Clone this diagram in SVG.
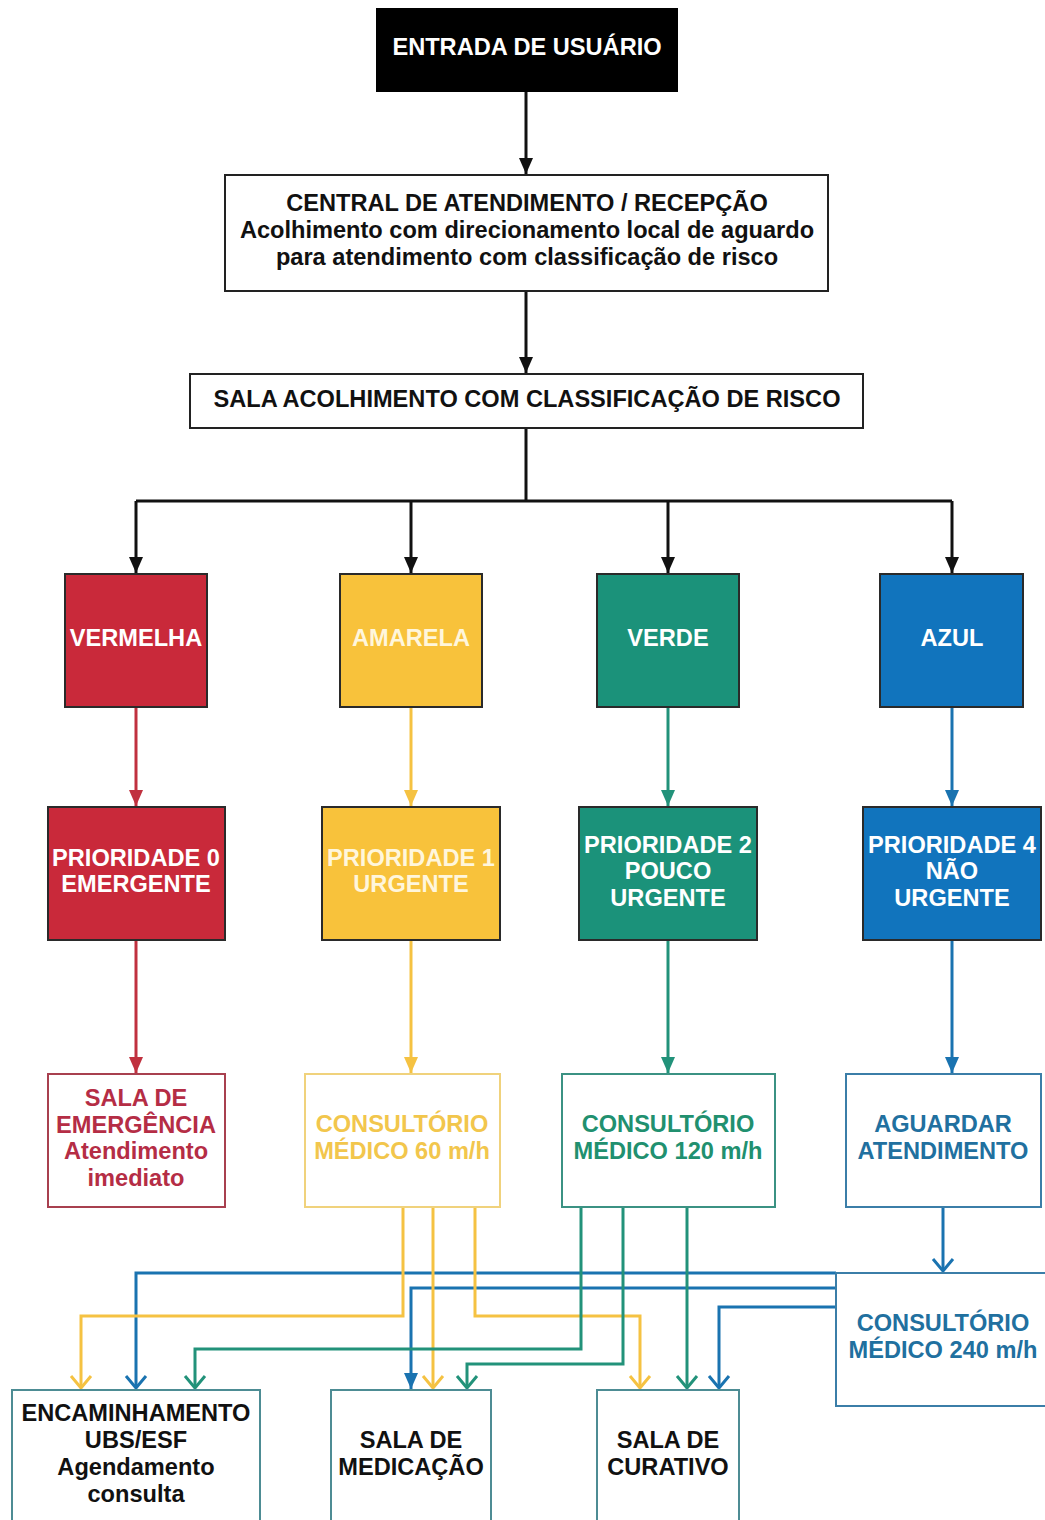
<svg xmlns="http://www.w3.org/2000/svg" width="1045" height="1520" viewBox="0 0 1045 1520">
  <style>
    text { font-family: "Liberation Sans", Arial, sans-serif; font-weight: bold; text-anchor: middle; font-size: 23.6px; }
    .plain { fill: #fff; stroke: #222; stroke-width: 2; }
    .solid { stroke: #2a2a2a; stroke-width: 2; }
    .w { fill: #ffffff; }
    .k { fill: #111111; }
    .ln { fill: none; stroke-width: 3; }
    .lk { stroke: #111111; }
    .lr { stroke: #c0313f; }
    .ly { stroke: #f5c242; }
    .lg { stroke: #22927a; }
    .lb { stroke: #1a73b0; }
    .out { fill: #ffffff; stroke-width: 2; }
    .dest { fill: #ffffff; stroke: #4d8c94; stroke-width: 2; }
  </style>
  <defs>
    <marker id="tri-k" viewBox="0 0 16 14" refX="16" refY="7" markerWidth="16" markerHeight="14" markerUnits="userSpaceOnUse" orient="auto"><path d="M0,0 L16,7 L0,14 z" fill="#111111"/></marker>
    <marker id="tri-r" viewBox="0 0 16 14" refX="16" refY="7" markerWidth="16" markerHeight="14" markerUnits="userSpaceOnUse" orient="auto"><path d="M0,0 L16,7 L0,14 z" fill="#c0313f"/></marker>
    <marker id="tri-y" viewBox="0 0 16 14" refX="16" refY="7" markerWidth="16" markerHeight="14" markerUnits="userSpaceOnUse" orient="auto"><path d="M0,0 L16,7 L0,14 z" fill="#f5c242"/></marker>
    <marker id="tri-g" viewBox="0 0 16 14" refX="16" refY="7" markerWidth="16" markerHeight="14" markerUnits="userSpaceOnUse" orient="auto"><path d="M0,0 L16,7 L0,14 z" fill="#22927a"/></marker>
    <marker id="tri-b" viewBox="0 0 16 14" refX="16" refY="7" markerWidth="16" markerHeight="14" markerUnits="userSpaceOnUse" orient="auto"><path d="M0,0 L16,7 L0,14 z" fill="#1a73b0"/></marker>
    <marker id="chev-y" viewBox="-2 -12 16 24" refX="12" refY="0" markerWidth="16" markerHeight="24" markerUnits="userSpaceOnUse" orient="auto"><path d="M0,-10 L12,0 L0,10" fill="none" stroke="#f5c242" stroke-width="3"/></marker>
    <marker id="chev-g" viewBox="-2 -12 16 24" refX="12" refY="0" markerWidth="16" markerHeight="24" markerUnits="userSpaceOnUse" orient="auto"><path d="M0,-10 L12,0 L0,10" fill="none" stroke="#22927a" stroke-width="3"/></marker>
    <marker id="chev-b" viewBox="-2 -12 16 24" refX="12" refY="0" markerWidth="16" markerHeight="24" markerUnits="userSpaceOnUse" orient="auto"><path d="M0,-10 L12,0 L0,10" fill="none" stroke="#1a73b0" stroke-width="3"/></marker>
  </defs>

  <rect width="1045" height="1520" fill="#ffffff"/>

  <!-- connectors -->
  <g id="connectors">
    <path class="ln lk" d="M526,92 V174" marker-end="url(#tri-k)"/>
    <path class="ln lk" d="M526,291 V373" marker-end="url(#tri-k)"/>
    <path class="ln lk" d="M526,428 V501"/>
    <path class="ln lk" d="M136,501 H952"/>
    <path class="ln lk" d="M136,501 V573" marker-end="url(#tri-k)"/>
    <path class="ln lk" d="M411,501 V573" marker-end="url(#tri-k)"/>
    <path class="ln lk" d="M668,501 V573" marker-end="url(#tri-k)"/>
    <path class="ln lk" d="M952,501 V573" marker-end="url(#tri-k)"/>

    <path class="ln lr" d="M136,707 V806" marker-end="url(#tri-r)"/>
    <path class="ln lr" d="M136,940 V1073" marker-end="url(#tri-r)"/>
    <path class="ln ly" d="M411,707 V806" marker-end="url(#tri-y)"/>
    <path class="ln ly" d="M411,940 V1073" marker-end="url(#tri-y)"/>
    <path class="ln lg" d="M668,707 V806" marker-end="url(#tri-g)"/>
    <path class="ln lg" d="M668,940 V1073" marker-end="url(#tri-g)"/>
    <path class="ln lb" d="M952,707 V806" marker-end="url(#tri-b)"/>
    <path class="ln lb" d="M952,940 V1073" marker-end="url(#tri-b)"/>

    <path class="ln lb" d="M943,1207 V1271" marker-end="url(#chev-b)"/>

    <path class="ln lb" d="M836,1273 H136 V1388" marker-end="url(#chev-b)"/>
    <path class="ln lb" d="M836,1288 H411 V1389" marker-end="url(#tri-b)"/>
    <path class="ln lb" d="M836,1307 H719 V1388" marker-end="url(#chev-b)"/>

    <path class="ln ly" d="M403,1207 V1316 H81 V1388" marker-end="url(#chev-y)"/>
    <path class="ln ly" d="M433,1207 V1388" marker-end="url(#chev-y)"/>
    <path class="ln ly" d="M475,1207 V1316 H640 V1388" marker-end="url(#chev-y)"/>

    <path class="ln lg" d="M581,1207 V1349 H195 V1388" marker-end="url(#chev-g)"/>
    <path class="ln lg" d="M623,1207 V1364 H467 V1388" marker-end="url(#chev-g)"/>
    <path class="ln lg" d="M687,1207 V1388" marker-end="url(#chev-g)"/>
  </g>

  <!-- entry and reception -->
  <g id="entrada">
    <rect x="376" y="8" width="302" height="84" fill="#000000"/>
    <text class="w" x="527" y="55">ENTRADA DE USUÁRIO</text>
  </g>
  <g id="central">
    <rect class="plain" x="225" y="175" width="603" height="116"/>
    <text class="k" x="527" y="211">CENTRAL DE ATENDIMENTO / RECEPÇÃO</text>
    <text class="k" x="527" y="238">Acolhimento com direcionamento local de aguardo</text>
    <text class="k" x="527" y="265">para atendimento com classificação de risco</text>
  </g>
  <g id="sala-acolhimento">
    <rect class="plain" x="190" y="374" width="673" height="54"/>
    <text class="k" x="527" y="407">SALA ACOLHIMENTO COM CLASSIFICAÇÃO DE RISCO</text>
  </g>

  <!-- risk colours -->
  <g id="vermelha">
    <rect class="solid" x="65" y="574" width="142" height="133" fill="#c9293a"/>
    <text class="w" x="136" y="646">VERMELHA</text>
  </g>
  <g id="amarela">
    <rect class="solid" x="340" y="574" width="142" height="133" fill="#f8c23b"/>
    <text x="411" y="646" fill="#fff6dc">AMARELA</text>
  </g>
  <g id="verde">
    <rect class="solid" x="597" y="574" width="142" height="133" fill="#1b927a"/>
    <text class="w" x="668" y="646">VERDE</text>
  </g>
  <g id="azul">
    <rect class="solid" x="880" y="574" width="143" height="133" fill="#1174bd"/>
    <text class="w" x="952" y="646">AZUL</text>
  </g>

  <!-- priorities -->
  <g id="prioridade-0">
    <rect class="solid" x="48" y="807" width="177" height="133" fill="#c9293a"/>
    <text class="w" x="136" y="866">PRIORIDADE 0</text>
    <text class="w" x="136" y="892">EMERGENTE</text>
  </g>
  <g id="prioridade-1">
    <rect class="solid" x="322" y="807" width="178" height="133" fill="#f8c23b"/>
    <text x="411" y="866" fill="#fff6dc">PRIORIDADE 1</text>
    <text x="411" y="892" fill="#fff6dc">URGENTE</text>
  </g>
  <g id="prioridade-2">
    <rect class="solid" x="579" y="807" width="178" height="133" fill="#1b927a"/>
    <text class="w" x="668" y="853">PRIORIDADE 2</text>
    <text class="w" x="668" y="879">POUCO</text>
    <text class="w" x="668" y="906">URGENTE</text>
  </g>
  <g id="prioridade-4">
    <rect class="solid" x="863" y="807" width="178" height="133" fill="#1174bd"/>
    <text class="w" x="952" y="853">PRIORIDADE 4</text>
    <text class="w" x="952" y="879">NÃO</text>
    <text class="w" x="952" y="906">URGENTE</text>
  </g>

  <!-- services -->
  <g id="sala-emergencia">
    <rect class="out" x="48" y="1074" width="177" height="133" stroke="#a8404f"/>
    <g fill="#b52d45">
      <text x="136" y="1106">SALA DE</text>
      <text x="136" y="1133">EMERGÊNCIA</text>
      <text x="136" y="1159">Atendimento</text>
      <text x="136" y="1186">imediato</text>
    </g>
  </g>
  <g id="consultorio-60">
    <rect class="out" x="305" y="1074" width="195" height="133" stroke="#f0d27c"/>
    <g fill="#f2c64c">
      <text x="402" y="1132">CONSULTÓRIO</text>
      <text x="402" y="1159">MÉDICO 60 m/h</text>
    </g>
  </g>
  <g id="consultorio-120">
    <rect class="out" x="562" y="1074" width="213" height="133" stroke="#3b9283"/>
    <g fill="#21906f">
      <text x="668" y="1132">CONSULTÓRIO</text>
      <text x="668" y="1159">MÉDICO 120 m/h</text>
    </g>
  </g>
  <g id="aguardar">
    <rect class="out" x="846" y="1074" width="195" height="133" stroke="#3b7ea8"/>
    <g fill="#21709f">
      <text x="943" y="1132">AGUARDAR</text>
      <text x="943" y="1159">ATENDIMENTO</text>
    </g>
  </g>
  <g id="consultorio-240">
    <rect class="out" x="836" y="1273" width="220" height="133" stroke="#3b7ea8"/>
    <g fill="#21709f">
      <text x="943" y="1331">CONSULTÓRIO</text>
      <text x="943" y="1358">MÉDICO 240 m/h</text>
    </g>
  </g>

  <!-- destinations -->
  <g id="encaminhamento">
    <rect class="dest" x="12" y="1390" width="248" height="150"/>
    <text class="k" x="136" y="1421">ENCAMINHAMENTO</text>
    <text class="k" x="136" y="1448">UBS/ESF</text>
    <text class="k" x="136" y="1475">Agendamento</text>
    <text class="k" x="136" y="1502">consulta</text>
  </g>
  <g id="sala-medicacao">
    <rect class="dest" x="331" y="1390" width="160" height="150"/>
    <text class="k" x="411" y="1448">SALA DE</text>
    <text class="k" x="411" y="1475">MEDICAÇÃO</text>
  </g>
  <g id="sala-curativo">
    <rect class="dest" x="597" y="1390" width="142" height="150"/>
    <text class="k" x="668" y="1448">SALA DE</text>
    <text class="k" x="668" y="1475">CURATIVO</text>
  </g>
</svg>
